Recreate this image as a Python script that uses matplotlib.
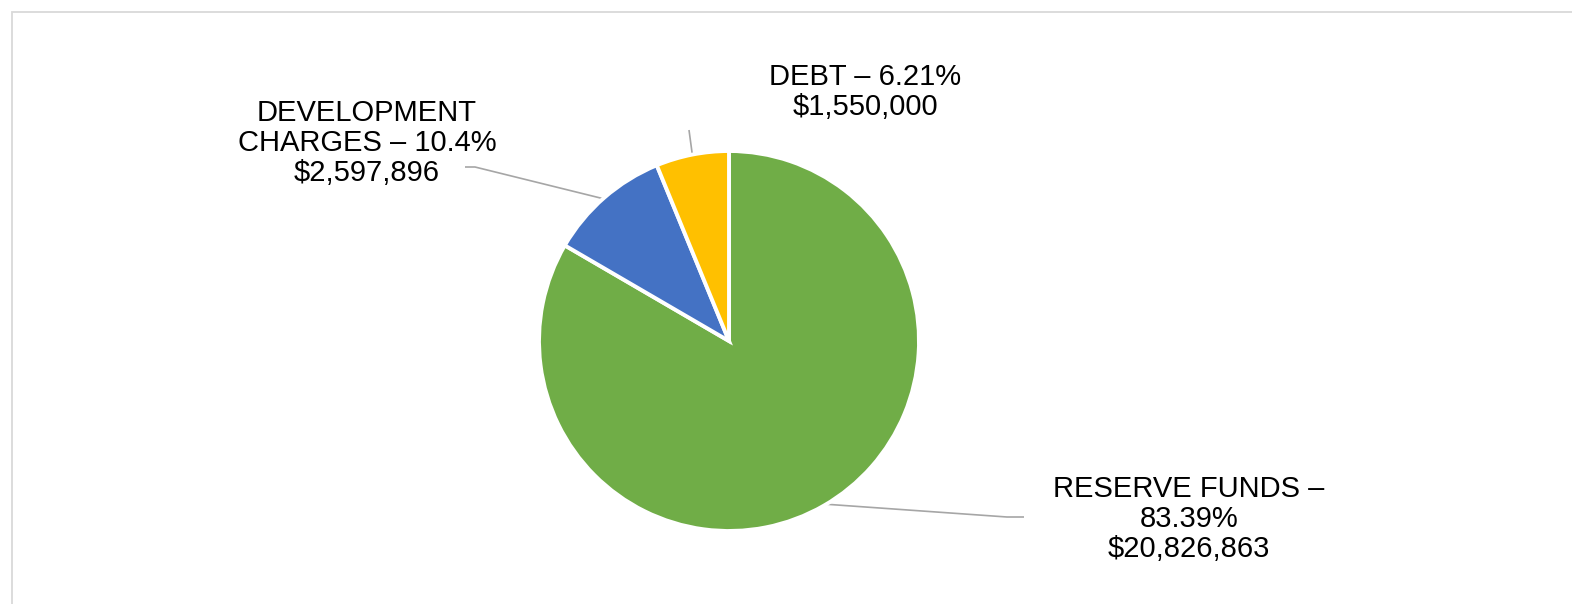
import numpy as np
import matplotlib
matplotlib.use("Agg")
from matplotlib import pyplot as plt
from matplotlib.patches import Rectangle

# funding sources
names = ["RESERVE FUNDS –\n", "DEVELOPMENT\nCHARGES – ", "DEBT – "]
amounts = [20826863, 2597896, 1550000]
colors = ["#70AD47", "#4472C4", "#FFC000"]

W, H = 1572, 604
total = sum(amounts)
pcts = [round(a / total * 100, 2) for a in amounts]

plt.rcParams['font.family'] = ['Liberation Sans', 'DejaVu Sans']

fig = plt.figure(figsize=(W / 100, H / 100), dpi=100)
ax = fig.add_axes([0, 0, 1, 1])
ax.set_xlim(0, W)
ax.set_ylim(0, H)
ax.set_aspect('equal')
ax.axis('off')

# pie in pixel units (y measured up from bottom)
cx, cy, r = 729, H - 341, 190
wedges, _ = ax.pie(amounts, colors=colors, startangle=90, counterclock=False,
                   center=(cx, cy), radius=r, frame=True,
                   wedgeprops=dict(edgecolor='white', linewidth=2.8))
ax.set_xlim(0, W)
ax.set_ylim(0, H)
ax.axis('off')

# label block centre and leader elbow for each slice
label_pos = [(1189, H - 519), (367, H - 143), (865, H - 92)]
elbows = [[(1007, H - 517), (1024, H - 517)],
          [(475, H - 167), (465, H - 167)],
          [(689, H - 130)]]

for w, name, a, p, lp, el in zip(wedges, names, amounts, pcts, label_pos, elbows):
    mid = np.deg2rad((w.theta1 + w.theta2) / 2)
    x0, y0 = cx + (r - 2) * np.cos(mid), cy + (r - 2) * np.sin(mid)
    xs = [x0] + [e[0] for e in el]
    ys = [y0] + [e[1] for e in el]
    ax.plot(xs, ys, color='#a6a6a6', lw=1.2, solid_capstyle='butt', zorder=0)
    txt = f"{name}{p:g}%\n${a:,}"
    ax.text(lp[0], lp[1], txt, ha='center', va='center', fontsize=21,
            color='black', linespacing=1.1, multialignment='center')

# chart area border
fig.patches.append(Rectangle((11.5 / W, -0.05), 1.1, (H - 11.5) / H + 0.05,
                             transform=fig.transFigure, fill=False,
                             edgecolor='#d9d9d9', lw=1.3))

fig.savefig("out.png", dpi=100)
